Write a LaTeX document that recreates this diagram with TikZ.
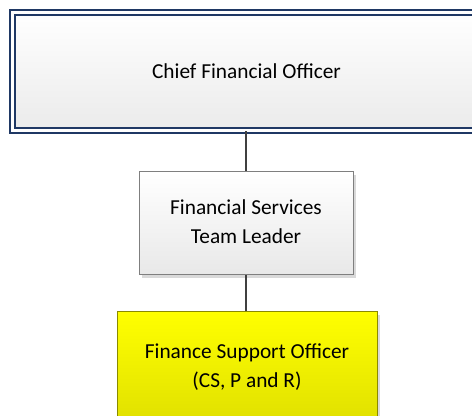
\documentclass[tikz,border=0pt]{standalone}
\usepackage{fontspec}
\setmainfont{Carlito}
\usetikzlibrary{shadows}
\definecolor{navy}{HTML}{1F3864}
\definecolor{linegray}{HTML}{404040}
\definecolor{boxgray}{HTML}{7F7F7F}
\definecolor{olive}{HTML}{8A8A00}
\tikzset{
  x=0.75pt, y=-0.75pt,
  txt/.style={font=\fontsize{16}{21.75}\selectfont, align=center, text=black, inner sep=0pt},
  cfobox/.style={txt, rectangle, draw=navy, line width=1.5pt, double=white, double distance=2.25pt,
    top color=white, bottom color=black!8},
  graybox/.style={txt, rectangle, draw=boxgray, line width=0.75pt, top color=white, bottom color=black!9,
    drop shadow={shadow xshift=2.5pt, shadow yshift=-2pt, fill=black!25, opacity=0.6}},
  yellowbox/.style={txt, rectangle, draw=olive, line width=0.75pt, top color=yellow, bottom color=yellow!88!black,
    drop shadow={shadow xshift=2.5pt, shadow yshift=-2pt, fill=black!25, opacity=0.6}},
  conn/.style={draw=linegray, line width=1.5pt}
}
\begin{document}
\begin{tikzpicture}
\useasboundingbox (0,0) rectangle (472,416);
\node[cfobox, minimum width=351pt, minimum height=88.5pt] (cfo) at (246.5,71.5) {Chief Financial Officer};
\node[graybox, minimum width=160.5pt, minimum height=77.25pt] (fstl) at (246,223.5) {};
\node[txt] (fstltext) at (246,221.5) {Financial Services\\Team Leader};
\node[yellowbox, minimum width=195pt, minimum height=82.5pt] (fso) at (247,367) {Finance Support Officer\\(CS, P and R)};
\draw[conn] (cfo.south -| fstl.north) -- (fstl.north);
\draw[conn] (fstl.south) -- (fstl.south |- fso.north);
\end{tikzpicture}
\end{document}
